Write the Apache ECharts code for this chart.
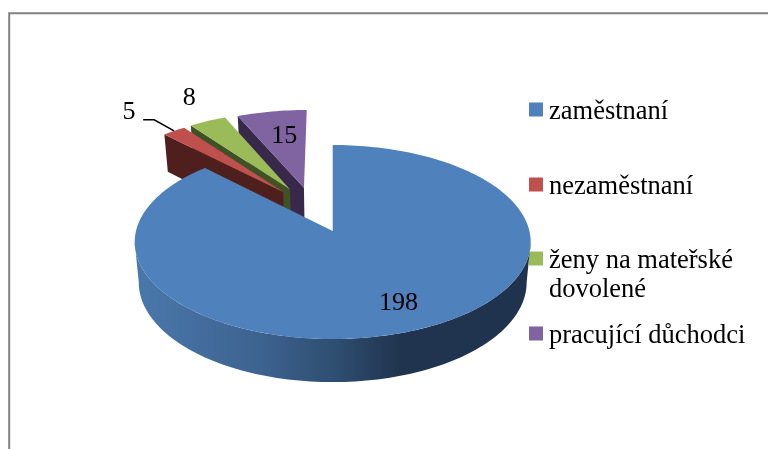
<!DOCTYPE html>
<html><head><meta charset="utf-8">
<style>html,body{margin:0;padding:0;background:#fff}#c{width:768px;height:449px}</style>
<script src="https://cdn.jsdelivr.net/npm/echarts@6/dist/echarts.min.js"></script>
</head><body><div id="c"></div>
<script>
const categories = ['zaměstnaní', 'nezaměstnaní', 'ženy na mateřské dovolené', 'pracující důchodci'];
const values = [198, 5, 8, 15];
const colors = ['#4f81bd', '#c0504d', '#9bbb59', '#8064a2'];
const cutFaceColors = ['#2a4365', '#4f1f1d', '#3f5226', '#38284a'];

// view of the tilted disc (perspective projection of a unit circle)
const K = 0.1134;
const TOP = {x: 332.7, y: 231, a: 95.75, b: 196.7};
const BOTTOM = {x: 332.7, y: 271, a: 98.5, b: 192.7};
// how far each slice is pulled out, in disc radii
const EXPLODE = [[0, 0], [-0.264, 0.427], [-0.2277, 0.4566], [-0.154, 0.475]];
const LABEL_R = [0.75, 1.40, 1.36, 0.67];
const LABEL_SHIFT = [-2, -1.7, 2.25, 1.3];
const LABEL_DY = 1;
const Z = [4, 3, 2, 1];
const FONT = 'Liberation Serif, Times New Roman, serif';

const total = values.reduce((a, b) => a + b, 0);
function project(view, i, deg, r) {
  const t = deg * Math.PI / 180;
  const X = r * Math.sin(t) + EXPLODE[i][0], Y = r * Math.cos(t) + EXPLODE[i][1];
  const w = 1 + K * Y;
  return [view.x + view.b * X / w, view.y - view.a * Y / w];
}
function sweep(view, i, from, to, r) {
  const n = Math.max(2, Math.ceil(Math.abs(to - from) / 1.5));
  const pts = [];
  for (let j = 0; j <= n; j++) pts.push(project(view, i, from + (to - from) * j / n, r));
  return pts;
}
const wallFill = new echarts.graphic.LinearGradient(0, 0, 1, 0, [
  {offset: 0, color: '#4a78ac'}, {offset: 0.31, color: '#3d6390'},
  {offset: 0.5, color: '#2f4f72'}, {offset: 0.67, color: '#20344f'}, {offset: 1, color: '#1f334e'}
]);

function renderSlice(i) {
  return function (params, api) {
    const val = api.value(0);
    let before = 0;
    for (let j = 0; j < i; j++) before += values[j];
    const a0 = before / total * 360, a1 = (before + val) / total * 360, mid = (a0 + a1) / 2;
    const children = [];
    if (i === 0) {
      const ext = Math.acos(-K) * 180 / Math.PI;
      const pts = sweep(TOP, i, ext, 360 - ext, 1).concat(sweep(BOTTOM, i, 360 - ext, ext, 1));
      children.push({type: 'polygon', shape: {points: pts}, style: {fill: wallFill}});
    } else {
      const face = [project(TOP, i, a0, 1), project(TOP, i, a0, 0), project(BOTTOM, i, a0, 0), project(BOTTOM, i, a0, 1)];
      children.push({type: 'polygon', shape: {points: face}, style: {fill: cutFaceColors[i]}});
    }
    const top = [project(TOP, i, a0, 0)].concat(sweep(TOP, i, a0, a1, 1));
    children.push({type: 'polygon', shape: {points: top}, style: {fill: colors[i]}});
    if (i === 1) {
      const end = project(TOP, i, mid, 1), elbow = project(TOP, i, mid, 1.2);
      children.push({type: 'polyline', shape: {points: [[elbow[0] - 11, elbow[1]], elbow, end]},
        style: {stroke: '#000', lineWidth: 1.6, fill: 'none'}});
    }
    const lp = project(TOP, i, mid + LABEL_SHIFT[i], LABEL_R[i]);
    children.push({type: 'text', x: lp[0], y: lp[1] + LABEL_DY, style: {text: String(val), fill: '#000',
      font: '26px ' + FONT, align: 'center', verticalAlign: 'middle'}});
    return {type: 'group', children};
  };
}

const legendTops = [99, 174, 248, 323];
const chart = echarts.init(document.getElementById('c'), null, {renderer: 'canvas'});
chart.setOption({
  animation: false,
  backgroundColor: '#fff',
  legend: categories.map((name, i) => ({
    data: [name], orient: 'vertical', left: 529, top: legendTops[i], padding: 0,
    itemWidth: 14, itemHeight: 20, itemGap: 0, selectedMode: false,
    icon: 'path://M0 0H14V14H0ZM0 20L14 20',
    textStyle: {color: '#000', fontFamily: FONT, fontSize: 26.5, padding: [0, 0, 0, 1]},
    formatter: i === 2 ? () => 'ženy na mateřské' : (n => n)
  })),
  graphic: [
    {type: 'polyline', silent: true, shape: {points: [[9.2, 449], [9.2, 13.3], [768, 13.3]]},
      style: {stroke: '#808080', lineWidth: 2, fill: 'none'}},
    {type: 'text', silent: true, left: 549, top: 277, style: {text: 'dovolené', fill: '#000', font: '26.5px ' + FONT}}
  ],
  series: categories.map((name, i) => ({
    type: 'custom', name, coordinateSystem: 'none', z: Z[i], silent: true,
    itemStyle: {color: colors[i]},
    data: [[values[i]]],
    renderItem: renderSlice(i)
  }))
});
</script></body></html>
